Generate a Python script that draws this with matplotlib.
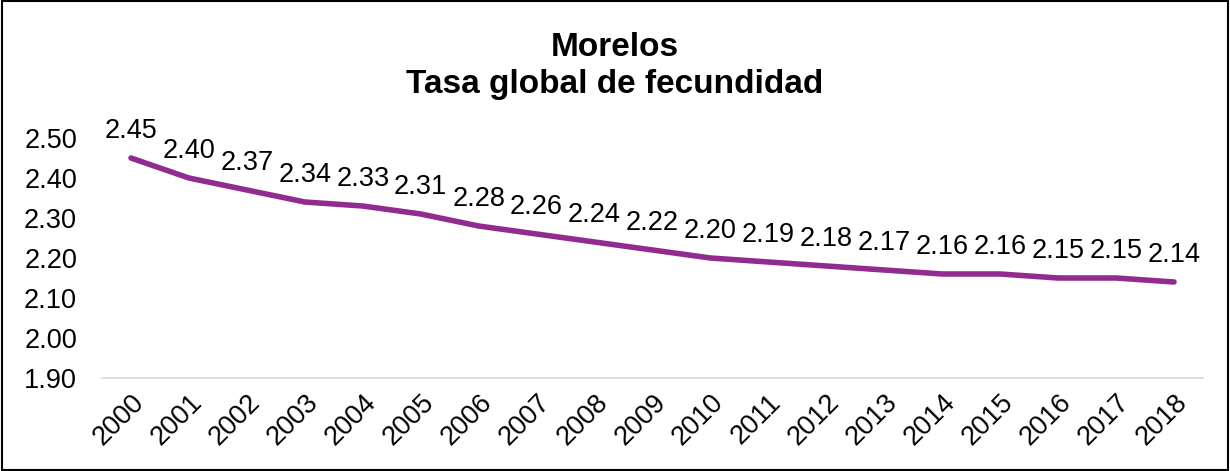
import matplotlib.pyplot as plt
from matplotlib.patches import Rectangle

plt.rcParams['font.family'] = ['Liberation Sans', 'DejaVu Sans']

years = [str(y) for y in range(2000, 2019)]
tgf = [2.45, 2.40, 2.37, 2.34, 2.33, 2.31, 2.28, 2.26, 2.24, 2.22,
       2.20, 2.19, 2.18, 2.17, 2.16, 2.16, 2.15, 2.15, 2.14]
yticks = [1.90, 2.00, 2.10, 2.20, 2.30, 2.40, 2.50]

fig = plt.figure(figsize=(12.3, 4.71), dpi=100)
ax = fig.add_axes([102 / 1230, 1 - 378 / 471, 1101 / 1230, 240 / 471])

x = list(range(len(years)))
ax.plot(x, tgf, color='#922B8F', linewidth=4, solid_capstyle='round')

for xi, v in zip(x, tgf):
    ax.annotate(f'{v:.2f}', (xi, v), xytext=(0, 10), textcoords='offset points',
                ha='center', va='bottom', fontsize=19.5, color='black',
                annotation_clip=False)

ax.set_xlim(-0.5, len(years) - 0.5)
ax.set_ylim(1.90, 2.50)
ax.set_yticks(yticks)
ax.set_yticklabels([f'{t:.2f}' for t in yticks], fontsize=19.5)
ax.set_xticks(x)
ax.set_xticklabels(years, fontsize=19.5, rotation=45, ha='right',
                   rotation_mode='anchor')
ax.tick_params(length=0, pad=8)
ax.tick_params(axis='y', pad=18)
for s in ['top', 'right', 'left']:
    ax.spines[s].set_visible(False)
ax.spines['bottom'].set_color('#d9d9d9')
ax.spines['bottom'].set_linewidth(1.2)

fig.text(0.5, 1 - 47 / 471, 'Morelos', ha='center', va='center',
         fontsize=24, fontweight='bold')
fig.text(0.5, 1 - 85 / 471, 'Tasa global de fecundidad', ha='center',
         va='center', fontsize=24, fontweight='bold')

fig.patches.append(Rectangle((0.002, 0.002), 0.996, 0.996, transform=fig.transFigure,
                             fill=False, edgecolor='black', linewidth=1.5))

fig.savefig('out.png', dpi=100)
